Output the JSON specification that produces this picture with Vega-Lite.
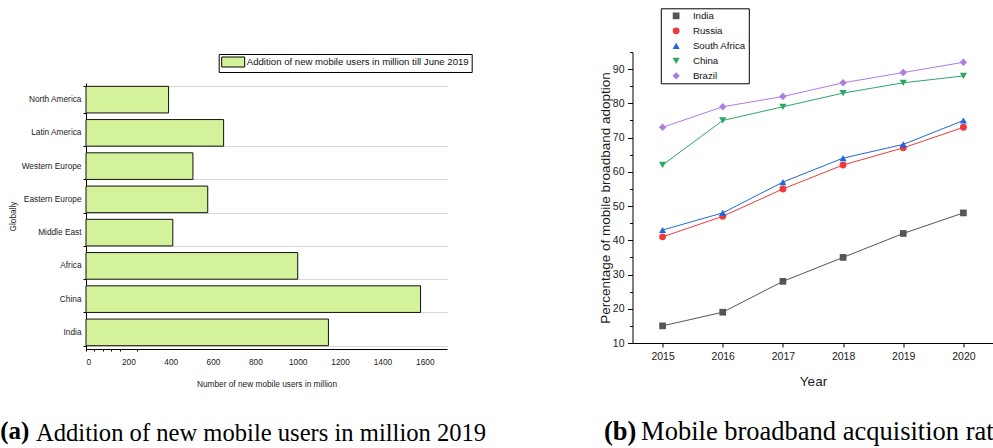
{
  "$schema": "https://vega.github.io/schema/vega-lite/v6.json",
  "background": "white",
  "padding": {"left": 0, "top": 7, "right": 0, "bottom": 0},
  "spacing": 110.5,
  "resolve": {
    "scale": {"color": "independent", "fill": "independent", "shape": "independent", "size": "independent"},
    "legend": {"color": "independent", "fill": "independent", "shape": "independent", "size": "independent"}
  },
  "config": {
    "view": {"stroke": null},
    "axis": {"domainColor": "#000", "tickColor": "#000", "labelColor": "#1a1a1a", "titleColor": "#1a1a1a", "titleFontWeight": "normal", "domainWidth": 1, "tickWidth": 1, "grid": false},
    "title": {"font": "Liberation Serif", "fontSize": 26, "color": "#000", "fontWeight": "normal", "offset": 0}
  },
  "hconcat": [
    {
      "title": {"text": "(a)", "orient": "bottom", "anchor": "start", "frame": "bounds", "fontWeight": "bold", "fontSize": 25, "dx": -8, "dy": -30},
      "spacing": 0,
      "resolve": {
        "scale": {"fill": "independent"},
        "legend": {"fill": "independent"}
      },
      "vconcat": [
        {"data": {"values": []}, "mark": "rule", "encoding": {}, "width": 10, "height": 1},
        {
          "width": 361,
          "height": 266,
          "title": {"text": "Addition of new mobile users in million 2019", "orient": "bottom", "anchor": "start", "frame": "group", "dx": -50, "offset": 34, "fontSize": 24.6},
          "data": {"values": [
            {"region": "North America", "users": 390},
            {"region": "Latin America", "users": 650},
            {"region": "Western Europe", "users": 505},
            {"region": "Eastern Europe", "users": 575},
            {"region": "Middle East", "users": 410},
            {"region": "Africa", "users": 1000},
            {"region": "China", "users": 1580},
            {"region": "India", "users": 1145}
          ]},
          "mark": {"type": "bar", "stroke": "#111", "strokeWidth": 1},
          "encoding": {
            "y": {
              "field": "region", "type": "nominal",
              "sort": ["North America", "Latin America", "Western Europe", "Eastern Europe", "Middle East", "Africa", "China", "India"],
              "scale": {"paddingInner": 0.2, "paddingOuter": 0.1},
              "axis": {
                "title": "Globally", "titleFont": "Liberation Sans", "titleFontSize": 8.3, "titlePadding": 4,
                "labelFont": "Liberation Sans", "labelFontSize": 8.3, "labelPadding": 2,
                "tickSize": 3, "tickBand": "extent",
                "grid": true, "gridColor": "#b0b0b0", "gridDash": [1, 1],
                "gridOpacity": {"condition": {"test": "datum.value === 'North America'", "value": 0}, "value": 1}
              }
            },
            "x": {
              "field": "users", "type": "quantitative",
              "scale": {"domain": [0, 1705], "nice": false},
              "axis": {
                "title": "Number of new mobile users in million", "titleFont": "Liberation Sans", "titleFontSize": 8.3, "titlePadding": 14,
                "values": [0, 40, 80, 120, 160, 200, 240, 400, 600, 800, 1000, 1200, 1400, 1600],
                "format": "d",
                "labelExpr": "datum.value % 200 === 0 ? datum.label : ''",
                "labelFont": "Liberation Sans", "labelFontSize": 8.3, "labelPadding": 6, "labelOverlap": false,
                "tickSize": 2,
                "tickOpacity": {"condition": {"test": "datum.value < 200 || datum.value === 240", "value": 1}, "value": 0}
              }
            },
            "fill": {
              "datum": "Addition of new mobile users in million till June 2019", "type": "nominal",
              "scale": {"range": ["#d3f29a"]},
              "legend": {
                "orient": "none", "legendX": 132.7, "legendY": -29, "title": null,
                "strokeColor": "#000", "fillColor": "#fff", "padding": 2.5,
                "labelFont": "Liberation Sans", "labelFontSize": 9.6, "labelColor": "#111", "labelOffset": 8.1, "labelLimit": 400,
                "symbolType": "M-2.3,-1H2.3V1H-2.3Z", "symbolSize": 100, "symbolOffset": 6.5,
                "symbolStrokeColor": "#000", "symbolStrokeWidth": 1, "symbolOpacity": 1
              }
            }
          }
        }
      ]
    },
    {
      "title": {"text": "(b)", "orient": "bottom", "anchor": "start", "frame": "bounds", "fontWeight": "bold", "fontSize": 26.5, "dx": 5.7, "dy": -30},
      "resolve": {
        "scale": {"color": "independent", "shape": "independent", "size": "independent"},
        "legend": {"color": "independent", "shape": "independent", "size": "independent"}
      },
      "hconcat": [
        {
          "width": 361,
          "height": 291,
          "title": {"text": "Mobile broadband acquisition rat", "orient": "bottom", "anchor": "start", "frame": "group", "dx": 8.6, "offset": 31, "fontSize": 26.5},
          "data": {"values": [
            {"country": "India", "year": 2015, "adoption": 15},
            {"country": "India", "year": 2016, "adoption": 19},
            {"country": "India", "year": 2017, "adoption": 28},
            {"country": "India", "year": 2018, "adoption": 35},
            {"country": "India", "year": 2019, "adoption": 42},
            {"country": "India", "year": 2020, "adoption": 48},
            {"country": "Russia", "year": 2015, "adoption": 41},
            {"country": "Russia", "year": 2016, "adoption": 47},
            {"country": "Russia", "year": 2017, "adoption": 55},
            {"country": "Russia", "year": 2018, "adoption": 62},
            {"country": "Russia", "year": 2019, "adoption": 67},
            {"country": "Russia", "year": 2020, "adoption": 73},
            {"country": "South Africa", "year": 2015, "adoption": 43},
            {"country": "South Africa", "year": 2016, "adoption": 48},
            {"country": "South Africa", "year": 2017, "adoption": 57},
            {"country": "South Africa", "year": 2018, "adoption": 64},
            {"country": "South Africa", "year": 2019, "adoption": 68},
            {"country": "South Africa", "year": 2020, "adoption": 75},
            {"country": "China", "year": 2015, "adoption": 62},
            {"country": "China", "year": 2016, "adoption": 75},
            {"country": "China", "year": 2017, "adoption": 79},
            {"country": "China", "year": 2018, "adoption": 83},
            {"country": "China", "year": 2019, "adoption": 86},
            {"country": "China", "year": 2020, "adoption": 88},
            {"country": "Brazil", "year": 2015, "adoption": 73},
            {"country": "Brazil", "year": 2016, "adoption": 79},
            {"country": "Brazil", "year": 2017, "adoption": 82},
            {"country": "Brazil", "year": 2018, "adoption": 86},
            {"country": "Brazil", "year": 2019, "adoption": 89},
            {"country": "Brazil", "year": 2020, "adoption": 92}
          ]},
          "encoding": {
            "x": {
              "field": "year", "type": "quantitative",
              "scale": {"domain": [2014.5, 2020.5], "nice": false, "zero": false},
              "axis": {
                "title": "Year", "titleFont": "Liberation Sans", "titleFontSize": 13.5, "titlePadding": 12,
                "values": [2015, 2015.5, 2016, 2016.5, 2017, 2017.5, 2018, 2018.5, 2019, 2019.5, 2020],
                "format": "d",
                "labelExpr": "datum.value % 1 === 0 ? datum.label : ''",
                "labelFont": "Liberation Sans", "labelFontSize": 10.5, "labelPadding": 4.5, "labelOverlap": false,
                "tickSize": {"condition": {"test": "datum.value % 1 === 0", "value": 4}, "value": 3}
              }
            },
            "y": {
              "field": "adoption", "type": "quantitative",
              "scale": {"domain": [10, 95], "nice": false, "zero": false},
              "axis": {
                "title": "Percentage of mobile broadband adoption", "titleFont": "Liberation Sans", "titleFontSize": 13.5, "titlePadding": 0,
                "values": [10, 15, 20, 25, 30, 35, 40, 45, 50, 55, 60, 65, 70, 75, 80, 85, 90, 95],
                "labelExpr": "datum.value % 10 === 0 ? datum.label : ''",
                "labelFont": "Liberation Sans", "labelFontSize": 10.5, "labelPadding": 3.5, "labelOverlap": false,
                "tickSize": {"condition": {"test": "datum.value % 10 === 0", "value": 5}, "value": 3}
              }
            },
            "color": {
              "field": "country", "type": "nominal",
              "scale": {
                "domain": ["India", "Russia", "South Africa", "China", "Brazil"],
                "range": ["#555555", "#f03a3a", "#2267dc", "#2ea666", "#ad7ddf"]
              },
              "legend": {
                "orient": "none", "legendX": 28.3, "legendY": -43.7, "title": null,
                "strokeColor": "#000", "fillColor": "#fff", "padding": 2.7,
                "labelFont": "Liberation Sans", "labelFontSize": 9.7, "labelColor": "#111", "labelOffset": 11.9,
                "symbolSize": 64, "symbolOffset": 7.8, "symbolStrokeWidth": 0, "rowPadding": 4,
                "encoding": {
                  "symbols": {
                    "shape": {"value": {"signal": "datum.value === 'India' ? 'M-3.5,-0.13H3.5V0.13H-3.5ZM-0.9,-0.9H0.9V0.9H-0.9Z' : datum.value === 'Russia' ? 'M-3.5,-0.13H3.5V0.13H-3.5ZM1,0A1,1,0,1,1,-1,0A1,1,0,1,1,1,0Z' : datum.value === 'South Africa' ? 'M-3.5,-0.13H3.5V0.13H-3.5ZM0,-1.05L1.1,0.85H-1.1Z' : datum.value === 'China' ? 'M-3.5,-0.13H3.5V0.13H-3.5ZM0,1.05L1.1,-0.85H-1.1Z' : 'M-3.5,-0.13H3.5V0.13H-3.5ZM0,-1.15L1.15,0L0,1.15L-1.15,0Z'"}},
                    "fill": {"value": {"signal": "datum.value === 'India' ? '#555555' : datum.value === 'Russia' ? '#f03a3a' : datum.value === 'South Africa' ? '#2267dc' : datum.value === 'China' ? '#2ea666' : '#ad7ddf'"}},
                    "strokeWidth": {"value": 0},
                    "opacity": {"value": 1}
                  }
                }
              }
            }
          },
          "layer": [
            {"mark": {"type": "line", "strokeWidth": 1}},
            {
              "mark": {"type": "point", "filled": true, "opacity": 1},
              "encoding": {
                "shape": {
                  "field": "country", "type": "nominal",
                  "scale": {"domain": ["India", "Russia", "South Africa", "China", "Brazil"], "range": ["square", "circle", "triangle-up", "triangle-down", "diamond"]},
                  "legend": null
                },
                "size": {
                  "field": "country", "type": "nominal",
                  "scale": {"domain": ["India", "Russia", "South Africa", "China", "Brazil"], "range": [45, 55, 64, 64, 110]},
                  "legend": null
                }
              }
            }
          ]
        }
      ]
    }
  ]
}
